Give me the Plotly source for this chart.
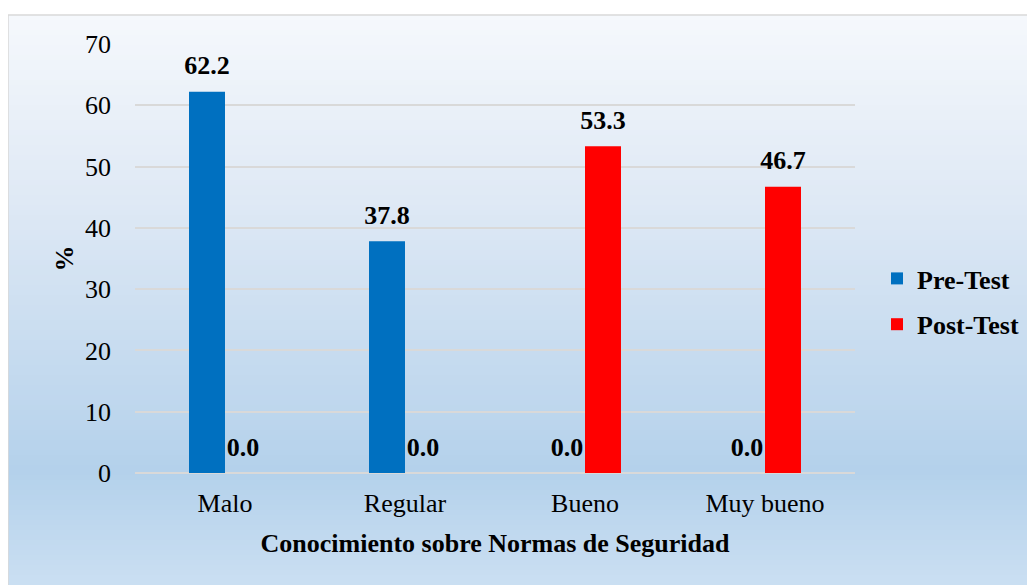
import plotly.graph_objects as go

categories = ["Malo", "Regular", "Bueno", "Muy bueno"]
pre_test = [62.2, 37.8, 0.0, 0.0]
post_test = [0.0, 0.0, 53.3, 46.7]
y_ticks = [0, 10, 20, 30, 40, 50, 60, 70]

OFF = 8  # page body margin
W, H = 1035 - OFF, 585 - OFF
L, T = 135 - OFF, 44 - OFF
R = W - (855 - OFF)
B = H - (473 - OFF)
PW, PH = W - L - R, H - T - B

def px_x(x):
    return (x - OFF - L) / PW

def px_y(y):
    return (H - B - (y - OFF)) / PH

stops = [(15, (245, 248, 252)), (200, (223, 233, 245)), (470, (180, 209, 235)), (585, (202, 223, 242))]

def col_at(y):
    for (y0, c0), (y1, c1) in zip(stops[:-1], stops[1:]):
        if y0 <= y <= y1:
            t = (y - y0) / (y1 - y0)
            return "rgb(%d,%d,%d)" % tuple(round(a + (b - a) * t) for a, b in zip(c0, c1))
    return "rgb(%d,%d,%d)" % stops[-1][1]

shapes = []
step = 5
y = 15
while y < 590:
    shapes.append(dict(type="rect", xref="paper", yref="paper",
                       x0=px_x(8), x1=px_x(1045), y0=px_y(y), y1=px_y(y + step + 0.6),
                       fillcolor=col_at(y + step / 2), line=dict(width=0), layer="below"))
    y += step
shapes.append(dict(type="rect", xref="paper", yref="paper",
                   x0=px_x(8), x1=px_x(1045), y0=px_y(15), y1=px_y(600),
                   fillcolor="rgba(0,0,0,0)", line=dict(color="#d9d9d9", width=1.5), layer="below"))

font_family = "Liberation Serif, Times New Roman, serif"

fig = go.Figure()
series = [("Pre-Test", pre_test, "#0070C0", "pre"), ("Post-Test", post_test, "#FF0000", "post")]
for name, vals, color, grp in series:
    fig.add_trace(go.Bar(name=f"<b>{name}</b>", x=categories, y=vals, marker_color=color,
                         marker_line_width=0, offsetgroup=grp, legendgroup=grp,
                         hoverinfo="x+y"))
for name, vals, color, grp in series:
    fig.add_trace(go.Scatter(x=categories, y=vals, mode="markers+text", offsetgroup=grp,
                             marker=dict(size=16, color="rgba(0,0,0,0)"),
                             text=[f"<b>{v:.1f}</b>" for v in vals], textposition="top center",
                             textfont=dict(size=26, color="black", family=font_family),
                             cliponaxis=False, showlegend=False, hoverinfo="skip"))

fig.update_layout(
    width=W, height=H,
    margin=dict(l=L, r=R, t=T, b=B, autoexpand=False),
    paper_bgcolor="white", plot_bgcolor="rgba(0,0,0,0)",
    font=dict(family=font_family, size=26, color="black"),
    barmode="group", bargap=0.6, bargroupgap=0,
    scattermode="group", scattergap=0.6,
    shapes=shapes,
    showlegend=True,
    legend=dict(x=px_x(877), y=px_y(255), xanchor="left", yanchor="top",
                font=dict(size=26, family=font_family), traceorder="grouped",
                tracegroupgap=9, bgcolor="rgba(0,0,0,0)"),
    xaxis=dict(title=dict(text="<b>Conocimiento sobre Normas de Seguridad</b>", standoff=16,
                          font=dict(size=26)),
               tickfont=dict(size=26), showgrid=False, showline=False, ticks="",
               ticklabelstandoff=12),
    yaxis=dict(title=dict(text="<b>%</b>", standoff=3, font=dict(size=26)),
               range=[0, 70], tickvals=y_ticks, tickfont=dict(size=26),
               showgrid=True, gridcolor="#d9d9d9", gridwidth=2,
               zeroline=True, zerolinecolor="#d9d9d9", zerolinewidth=2,
               showline=False, ticks="", ticklabelstandoff=23),
)

fig.write_html("out.html")
